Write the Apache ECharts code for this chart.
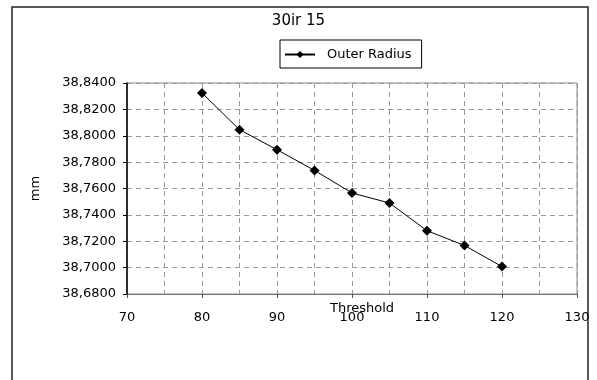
<!DOCTYPE html>
<html>
<head>
<meta charset="utf-8">
<script src="https://cdn.jsdelivr.net/npm/echarts@6/dist/echarts.min.js"></script>
<style>
  html, body { margin: 0; padding: 0; background: #fff; }
  #chart { width: 597px; height: 380px; }
</style>
</head>
<body>
<div id="chart"></div>
<script>
// Outer radius measured against detection threshold
const thresholds = [80, 85, 90, 95, 100, 105, 110, 115, 120];
const outerRadius = [38.8324, 38.8046, 38.7894, 38.7737, 38.7566, 38.7490, 38.7280, 38.7168, 38.7008];
const seriesName = 'Outer Radius';
const chartTitle = '30ir 15';

const FONT = 'DejaVu Sans';
const chart = echarts.init(document.getElementById('chart'), null, { renderer: 'canvas' });

const fmtComma = v => v.toFixed(4).replace('.', ',');
const gridDash = { color: '#999', type: [5, 4], width: 1 };

chart.setOption({
  animation: false,
  backgroundColor: '#fff',
  textStyle: { fontFamily: FONT, color: '#000' },
  title: {
    text: chartTitle,
    left: 'center',
    top: 9,
    textStyle: { fontFamily: FONT, fontSize: 15, fontWeight: 'normal', color: '#000' }
  },
  graphic: [{
    type: 'rect',
    shape: { x: 12, y: 7, width: 576, height: 400 },
    style: { fill: 'none', stroke: '#222', lineWidth: 1.5 },
    silent: true
  }],
  legend: {
    left: 280,
    top: 40,
    itemWidth: 30,
    itemHeight: 9,
    itemGap: 0,
    padding: [8, 10, 7, 4],
    borderColor: '#000',
    borderWidth: 1,
    textStyle: { fontFamily: FONT, fontSize: 13, color: '#000', padding: [0, 0, 0, 7] },
    data: [seriesName]
  },
  grid: {
    left: 127,
    right: 20,
    top: 83,
    bottom: 86,
    show: true,
    borderColor: '#888',
    borderWidth: 1
  },
  xAxis: {
    type: 'value',
    min: 70,
    max: 130,
    interval: 10,
    name: 'Threshold',
    nameLocation: 'middle',
    nameGap: 8,
    nameMoveOverlap: false,
    nameTextStyle: { fontFamily: FONT, fontSize: 13, color: '#000', padding: [0, 0, 0, 20] },
    axisLine: { show: true, lineStyle: { color: '#777', width: 1 } },
    axisTick: { show: true, length: 4, lineStyle: { color: '#555' } },
    axisLabel: { fontFamily: FONT, fontSize: 13, color: '#000', margin: 17 },
    splitLine: { show: true, lineStyle: gridDash },
    minorTick: { show: false, splitNumber: 2 },
    minorSplitLine: { show: true, lineStyle: gridDash }
  },
  yAxis: {
    type: 'value',
    min: 38.68,
    max: 38.84,
    interval: 0.02,
    name: 'mm',
    nameLocation: 'middle',
    nameGap: 85,
    nameRotate: 90,
    nameTextStyle: { fontFamily: FONT, fontSize: 13, color: '#000' },
    axisLine: { show: true, lineStyle: { color: '#000', width: 1.5 } },
    axisTick: { show: true, length: 4, lineStyle: { color: '#000' } },
    axisLabel: { fontFamily: FONT, fontSize: 13, color: '#000', margin: 11, formatter: fmtComma },
    splitLine: { show: true, lineStyle: gridDash }
  },
  series: [{
    name: seriesName,
    type: 'line',
    data: thresholds.map((t, i) => [t, outerRadius[i]]),
    symbol: 'diamond',
    symbolSize: 10,
    itemStyle: { color: '#000' },
    lineStyle: { color: '#000', width: 1 }
  }]
});
</script>
</body>
</html>
